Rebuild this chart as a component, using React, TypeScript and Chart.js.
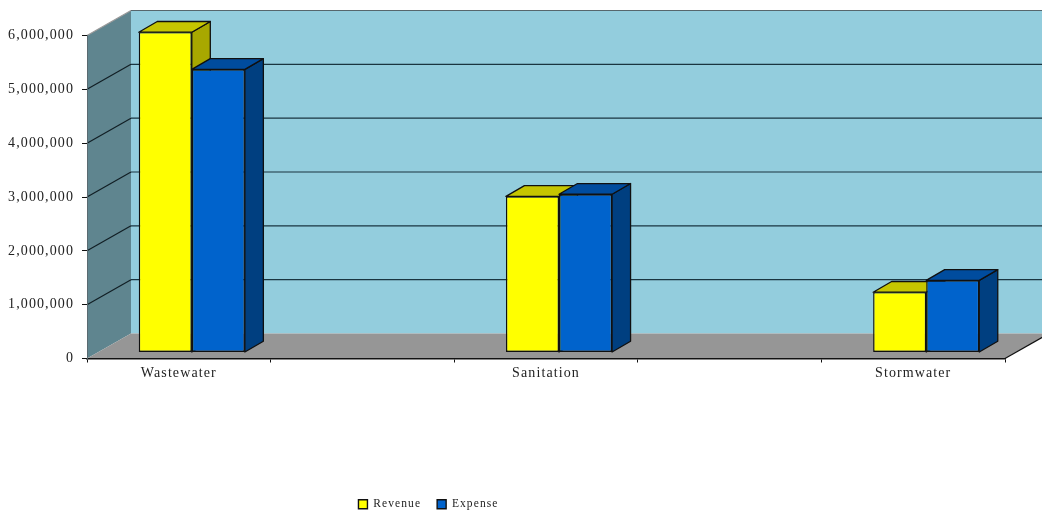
import React, { useEffect, useRef } from "react";
import { Chart, registerables } from "chart.js";

Chart.register(...registerables);

const categories = ["Wastewater", "", "Sanitation", "", "Stormwater"];
const revenue = [5950000, null, 2900000, null, 1120000];
const expense = [5260000, null, 2940000, null, 1340000];
const seriesNames = ["Revenue", "Expense"];
const yMax = 6000000;
const yStep = 1000000;

const WALL_DX = 44;
const WALL_DY = 25;
const BAR_SHIFT_X = 13;
const BAR_SHIFT_Y = 6;
const BAR_DX = 18.5;
const BAR_DY = 10.7;

const faceColors = [
  { top: "#C6C600", side: "#A8A800" },
  { top: "#004C9E", side: "#003F80" },
];

function poly(ctx: CanvasRenderingContext2D, pts: number[][], fill: string | null, stroke?: string, lw = 1) {
  ctx.beginPath();
  pts.forEach((p, i) => (i ? ctx.lineTo(p[0], p[1]) : ctx.moveTo(p[0], p[1])));
  ctx.closePath();
  if (fill) {
    ctx.fillStyle = fill;
    ctx.fill();
  }
  if (stroke) {
    ctx.strokeStyle = stroke;
    ctx.lineWidth = lw;
    ctx.lineJoin = "round";
    ctx.stroke();
  }
}

const threeD = {
  id: "threeD",
  beforeLayout(chart: any) {
    chart.ctx.letterSpacing = "1.1px";
  },
  afterLayout(chart: any) {
    const l = chart.legend;
    l.left -= 74;
    l.right -= 74;
    l.top += 10;
    l.bottom += 10;
  },
  beforeDraw(chart: any) {
    const { ctx, chartArea: a, scales } = chart;
    const y = scales.y;
    ctx.save();
    // back wall
    poly(ctx, [[a.left + WALL_DX, a.top - WALL_DY], [a.right + WALL_DX, a.top - WALL_DY], [a.right + WALL_DX, a.bottom - WALL_DY], [a.left + WALL_DX, a.bottom - WALL_DY]], "#93CDDD");
    // side wall
    poly(ctx, [[a.left, a.top], [a.left + WALL_DX, a.top - WALL_DY], [a.left + WALL_DX, a.bottom - WALL_DY], [a.left, a.bottom]], "#5F858F");
    // floor
    poly(ctx, [[a.left, a.bottom], [a.right, a.bottom], [a.right + WALL_DX, a.bottom - WALL_DY], [a.left + WALL_DX, a.bottom - WALL_DY]], "#969696");
    // grid lines following the walls
    y.ticks.forEach((t: any) => {
      const py = y.getPixelForValue(t.value);
      const isTop = t.value === yMax;
      const isZero = t.value === 0;
      if (isZero) return;
      ctx.beginPath();
      ctx.moveTo(a.left, py);
      ctx.lineTo(a.left + WALL_DX, py - WALL_DY);
      ctx.strokeStyle = isTop ? "#9A9A9A" : "#111E24";
      ctx.lineWidth = 1.2;
      ctx.stroke();
      ctx.beginPath();
      ctx.moveTo(a.left + WALL_DX, py - WALL_DY);
      ctx.lineTo(a.right + WALL_DX, py - WALL_DY);
      ctx.strokeStyle = isTop ? "#56666C" : "#1A3540";
      ctx.stroke();
    });
    // floor's right edge
    ctx.beginPath();
    ctx.moveTo(a.right, a.bottom);
    ctx.lineTo(a.right + WALL_DX, a.bottom - WALL_DY);
    ctx.strokeStyle = "#111";
    ctx.lineWidth = 1.2;
    ctx.stroke();
    ctx.restore();
  },
  beforeDatasetsDraw(chart: any) {
    const { ctx } = chart;
    ctx.save();
    ctx.translate(BAR_SHIFT_X, -BAR_SHIFT_Y);
    chart.data.datasets.forEach((_: any, di: number) => {
      const meta = chart.getDatasetMeta(di);
      meta.data.forEach((bar: any, i: number) => {
        if (chart.data.datasets[di].data[i] == null) return;
        const { x, y, base, width } = bar.getProps(["x", "y", "base", "width"], true);
        const l = x - width / 2;
        const r = x + width / 2;
        poly(ctx, [[r, y], [r + BAR_DX, y - BAR_DY], [r + BAR_DX, base - BAR_DY], [r, base]], faceColors[di].side, "#101010", 1.3);
        poly(ctx, [[l, y], [l + BAR_DX, y - BAR_DY], [r + BAR_DX, y - BAR_DY], [r, y]], faceColors[di].top, "#101010", 1.3);
      });
    });
  },
  afterDatasetsDraw(chart: any) {
    chart.ctx.restore();
  },
};

export default function App() {
  const ref = useRef<HTMLCanvasElement>(null);
  useEffect(() => {
    const chart = new Chart(ref.current!, {
      type: "bar",
      data: {
        labels: categories,
        datasets: [
          { label: seriesNames[0], data: revenue, backgroundColor: "#FFFF00", borderColor: "#101010", borderWidth: 1.4, borderSkipped: false },
          { label: seriesNames[1], data: expense, backgroundColor: "#0063CC", borderColor: "#101010", borderWidth: 1.4, borderSkipped: false },
        ],
      },
      options: {
        animation: false,
        responsive: false,
        layout: { padding: { top: 35.5, right: 37, left: 0, bottom: 0 } },
        datasets: { bar: { categoryPercentage: 0.578, barPercentage: 1 } },
        font: { family: "'Liberation Serif'", size: 14 },
        scales: {
          x: {
            grid: { offset: true, drawOnChartArea: false, drawTicks: true, tickLength: 4, color: "#111" },
            border: { color: "#111", width: 1.5 },
            ticks: { autoSkip: false, maxRotation: 0, color: "#222", padding: 2, font: { family: "'Liberation Serif'", size: 14 } },
            afterFit(s: any) {
              s.height = 114;
            },
          },
          y: {
            min: 0,
            max: yMax,
            grid: { drawOnChartArea: false, drawTicks: true, tickLength: 5, color: "#111" },
            border: { color: "#5A6A70", width: 1 },
            ticks: {
              stepSize: yStep,
              color: "#222",
              padding: 8,
              font: { family: "'Liberation Serif'", size: 14 },
              callback: (v: any) => Number(v).toLocaleString("en-US"),
            },
            afterFit(s: any) {
              s.width = 87;
            },
          },
        },
        plugins: {
          title: { display: false },
          tooltip: { enabled: false },
          legend: {
            position: "bottom",
            labels: {
              boxWidth: 9,
              boxHeight: 9,
              padding: 16,
              color: "#222",
              font: { family: "'Liberation Serif'", size: 11.5 },
            },
          },
        },
      },
      plugins: [threeD],
    } as any);
    return () => chart.destroy();
  }, []);
  return (
    <div style={{ position: "absolute", left: 0, top: 0, width: 1042, height: 510, background: "#fff" }}>
      <canvas ref={ref} width={1042} height={510} style={{ display: "block" }} />
    </div>
  );
}
